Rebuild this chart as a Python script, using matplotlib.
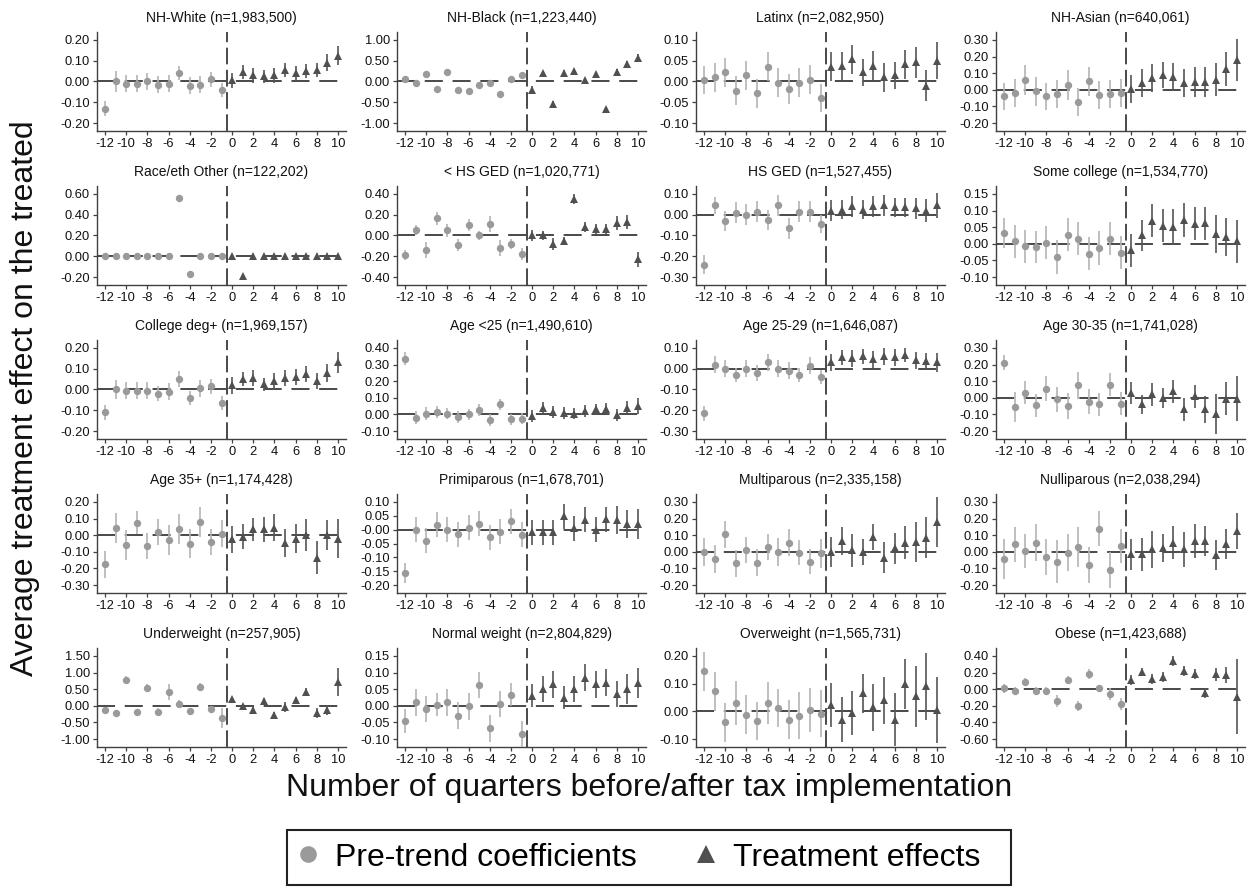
import matplotlib
matplotlib.use('Agg')
import matplotlib.pyplot as plt
from matplotlib.lines import Line2D
import numpy as np

plt.rcParams['font.family'] = ['Liberation Sans', 'DejaVu Sans']
plt.rcParams['lines.scale_dashes'] = False

pre_x = list(range(-12, 0))
post_x = list(range(0, 11))
x_ticks = list(range(-12, 11, 2))

titles = [
    "NH-White (n=1,983,500)", "NH-Black (n=1,223,440)", "Latinx (n=2,082,950)", "NH-Asian (n=640,061)",
    "Race/eth Other (n=122,202)", "< HS GED (n=1,020,771)", "HS GED (n=1,527,455)", "Some college (n=1,534,770)",
    "College deg+ (n=1,969,157)", "Age <25 (n=1,490,610)", "Age 25-29 (n=1,646,087)", "Age 30-35 (n=1,741,028)",
    "Age 35+ (n=1,174,428)", "Primiparous (n=1,678,701)", "Multiparous (n=2,335,158)", "Nulliparous (n=2,038,294)",
    "Underweight (n=257,905)", "Normal weight (n=2,804,829)", "Overweight (n=1,565,731)", "Obese (n=1,423,688)",
]

y_tick_lo = [-0.2, -1.0, -0.1, -0.2, -0.2, -0.4, -0.3, -0.1, -0.2, -0.1, -0.3, -0.2,
             -0.3, -0.2, -0.2, -0.2, -1.0, -0.1, -0.1, -0.6]
y_tick_hi = [0.2, 1.0, 0.1, 0.3, 0.6, 0.4, 0.1, 0.15, 0.2, 0.4, 0.1, 0.3,
             0.2, 0.1, 0.3, 0.3, 1.5, 0.15, 0.2, 0.4]
y_tick_step = [0.1, 0.5, 0.05, 0.1, 0.2, 0.2, 0.1, 0.05, 0.1, 0.1, 0.1, 0.1,
               0.1, 0.05, 0.1, 0.1, 0.5, 0.05, 0.1, 0.2]

pre_est = [
    [-0.13, 0.00, -0.01, -0.01, 0.00, -0.015, -0.01, 0.04, -0.02, -0.015, 0.01, -0.04],
    [0.05, -0.03, 0.19, -0.17, 0.23, -0.21, -0.24, -0.08, -0.03, -0.30, 0.07, 0.15],
    [0.004, 0.01, 0.022, -0.022, 0.015, -0.028, 0.036, -0.003, -0.018, -0.003, 0.004, -0.04],
    [-0.04, -0.02, 0.06, -0.01, -0.04, -0.025, 0.03, -0.075, 0.05, -0.03, -0.025, -0.02],
    [0.0, 0.0, 0.0, 0.0, 0.0, 0.0, 0.0, 0.56, -0.17, 0.0, 0.0, 0.0],
    [-0.185, 0.05, -0.14, 0.165, 0.05, -0.09, 0.10, 0.00, 0.11, -0.12, -0.08, -0.18],
    [-0.24, 0.045, -0.03, 0.01, 0.00, 0.015, -0.025, 0.045, -0.065, 0.015, 0.015, -0.045],
    [0.032, 0.008, -0.007, -0.01, 0.003, -0.04, 0.028, 0.015, -0.03, -0.012, 0.015, -0.027],
    [-0.11, 0.00, -0.005, -0.005, -0.005, -0.02, -0.01, 0.05, -0.04, 0.005, 0.015, -0.065],
    [0.335, -0.02, 0.005, 0.015, 0.005, -0.015, 0.00, 0.025, -0.035, 0.06, -0.03, -0.025],
    [-0.215, 0.02, 0.00, -0.03, 0.00, -0.02, 0.03, 0.00, -0.01, -0.03, 0.015, -0.04],
    [0.21, -0.055, 0.03, -0.045, 0.055, -0.01, -0.05, 0.075, -0.025, -0.04, 0.08, -0.035],
    [-0.175, 0.045, -0.06, 0.075, -0.065, 0.02, -0.03, 0.035, -0.05, 0.08, -0.04, 0.01],
    [-0.157, 0.00, -0.04, 0.018, 0.00, -0.016, 0.007, 0.022, -0.027, -0.008, 0.03, -0.018],
    [0.00, -0.045, 0.105, -0.07, 0.01, -0.065, 0.03, 0.00, 0.055, -0.005, -0.06, -0.01],
    [-0.045, 0.045, 0.005, 0.055, -0.03, -0.06, -0.005, 0.03, -0.08, 0.14, -0.11, 0.035],
    [-0.14, -0.22, 0.77, -0.19, 0.54, -0.18, 0.42, 0.05, -0.17, 0.57, -0.11, -0.38],
    [-0.046, 0.01, -0.01, 0.003, 0.01, -0.03, -0.002, 0.062, -0.068, 0.005, 0.033, -0.085],
    [0.145, 0.073, -0.04, 0.03, -0.012, -0.035, 0.03, 0.012, -0.03, -0.015, 0.005, -0.008],
    [0.01, -0.02, 0.09, -0.02, -0.02, -0.14, 0.11, -0.20, 0.18, 0.01, -0.06, -0.18],
]
pre_err = [
    [0.035, 0.05, 0.04, 0.04, 0.04, 0.04, 0.04, 0.035, 0.04, 0.04, 0.035, 0.035],
    [0.04, 0.03, 0.05, 0.04, 0.05, 0.04, 0.04, 0.06, 0.04, 0.04, 0.05, 0.06],
    [0.033, 0.035, 0.035, 0.035, 0.035, 0.035, 0.035, 0.035, 0.035, 0.035, 0.035, 0.033],
    [0.08, 0.085, 0.09, 0.085, 0.08, 0.085, 0.09, 0.085, 0.085, 0.085, 0.085, 0.085],
    [0.0, 0.0, 0.0, 0.0, 0.0, 0.0, 0.0, 0.0, 0.0, 0.0, 0.0, 0.0],
    [0.05, 0.05, 0.08, 0.06, 0.06, 0.06, 0.06, 0.04, 0.08, 0.08, 0.05, 0.06],
    [0.045, 0.04, 0.05, 0.05, 0.05, 0.05, 0.05, 0.05, 0.05, 0.05, 0.05, 0.045],
    [0.045, 0.05, 0.05, 0.048, 0.05, 0.05, 0.05, 0.05, 0.05, 0.052, 0.05, 0.05],
    [0.035, 0.045, 0.04, 0.04, 0.04, 0.035, 0.04, 0.04, 0.035, 0.04, 0.035, 0.035],
    [0.04, 0.04, 0.04, 0.035, 0.035, 0.035, 0.035, 0.035, 0.035, 0.035, 0.035, 0.035],
    [0.035, 0.04, 0.04, 0.035, 0.04, 0.04, 0.04, 0.04, 0.04, 0.035, 0.04, 0.035],
    [0.045, 0.09, 0.07, 0.07, 0.075, 0.075, 0.08, 0.08, 0.075, 0.07, 0.07, 0.07],
    [0.08, 0.09, 0.09, 0.07, 0.08, 0.08, 0.09, 0.09, 0.09, 0.09, 0.08, 0.08],
    [0.035, 0.045, 0.045, 0.045, 0.045, 0.045, 0.045, 0.045, 0.045, 0.045, 0.045, 0.045],
    [0.085, 0.085, 0.08, 0.08, 0.08, 0.08, 0.08, 0.085, 0.08, 0.075, 0.075, 0.085],
    [0.12, 0.105, 0.10, 0.11, 0.11, 0.13, 0.11, 0.12, 0.11, 0.105, 0.11, 0.10],
    [0.08, 0.08, 0.12, 0.08, 0.12, 0.12, 0.25, 0.12, 0.10, 0.12, 0.10, 0.30],
    [0.035, 0.04, 0.04, 0.035, 0.04, 0.04, 0.04, 0.04, 0.04, 0.04, 0.035, 0.04],
    [0.07, 0.07, 0.07, 0.08, 0.07, 0.07, 0.075, 0.07, 0.07, 0.085, 0.08, 0.085],
    [0.05, 0.05, 0.05, 0.05, 0.05, 0.07, 0.05, 0.06, 0.06, 0.04, 0.07, 0.07],
]
post_est = [
    [0.005, 0.045, 0.03, 0.025, 0.03, 0.055, 0.04, 0.05, 0.055, 0.09, 0.125],
    [-0.20, 0.21, -0.53, 0.21, 0.25, 0.04, 0.17, -0.67, 0.22, 0.43, 0.56],
    [0.036, 0.037, 0.053, 0.022, 0.038, 0.01, 0.015, 0.041, 0.046, -0.01, 0.05],
    [0.005, 0.04, 0.07, 0.09, 0.075, 0.04, 0.045, 0.045, 0.06, 0.125, 0.18],
    [0.0, -0.19, 0.0, 0.0, 0.0, 0.0, 0.0, 0.0, 0.0, 0.0, 0.0],
    [0.00, 0.00, -0.08, -0.05, 0.35, 0.08, 0.06, 0.06, 0.12, 0.13, -0.23],
    [0.02, 0.025, 0.04, 0.025, 0.04, 0.045, 0.035, 0.035, 0.03, 0.02, 0.045],
    [-0.02, 0.025, 0.07, 0.055, 0.05, 0.072, 0.06, 0.062, 0.03, 0.02, 0.008],
    [0.02, 0.05, 0.055, 0.025, 0.04, 0.055, 0.06, 0.075, 0.04, 0.08, 0.13],
    [-0.01, 0.04, 0.015, 0.01, 0.005, 0.02, 0.03, 0.035, -0.005, 0.04, 0.05],
    [0.03, 0.055, 0.05, 0.06, 0.045, 0.06, 0.055, 0.065, 0.04, 0.035, 0.03],
    [0.03, -0.04, 0.02, 0.00, 0.04, -0.07, 0.01, -0.07, -0.095, -0.005, -0.005],
    [-0.025, -0.01, 0.035, 0.035, 0.045, -0.045, -0.02, 0.00, -0.135, 0.00, -0.02],
    [-0.01, -0.01, -0.01, 0.048, 0.005, 0.035, 0.00, 0.037, 0.035, 0.02, 0.02],
    [0.00, 0.065, 0.01, 0.00, 0.09, -0.035, 0.02, 0.055, 0.06, 0.085, 0.18],
    [-0.015, -0.015, 0.015, 0.025, 0.055, 0.015, 0.065, 0.065, -0.02, 0.045, 0.125],
    [0.19, -0.02, -0.14, 0.15, -0.27, -0.03, 0.18, 0.43, -0.23, -0.12, 0.72],
    [0.03, 0.05, 0.065, 0.025, 0.05, 0.085, 0.065, 0.07, 0.035, 0.05, 0.07],
    [0.022, -0.03, -0.005, 0.065, 0.015, 0.04, -0.03, 0.10, 0.055, 0.09, 0.005],
    [0.11, 0.21, 0.12, 0.15, 0.34, 0.22, 0.18, -0.04, 0.18, 0.17, -0.09],
]
post_err = [
    [0.035, 0.035, 0.035, 0.03, 0.035, 0.035, 0.035, 0.035, 0.035, 0.04, 0.045],
    [0.08, 0.04, 0.06, 0.06, 0.06, 0.04, 0.04, 0.04, 0.07, 0.06, 0.09],
    [0.035, 0.033, 0.035, 0.033, 0.035, 0.035, 0.033, 0.035, 0.038, 0.038, 0.045],
    [0.085, 0.085, 0.085, 0.08, 0.085, 0.085, 0.09, 0.09, 0.10, 0.105, 0.125],
    [0.0, 0.0, 0.0, 0.0, 0.0, 0.0, 0.0, 0.0, 0.0, 0.0, 0.0],
    [0.05, 0.04, 0.06, 0.04, 0.05, 0.05, 0.05, 0.05, 0.07, 0.07, 0.07],
    [0.05, 0.045, 0.05, 0.045, 0.05, 0.05, 0.045, 0.045, 0.05, 0.055, 0.06],
    [0.05, 0.048, 0.05, 0.05, 0.055, 0.052, 0.05, 0.05, 0.058, 0.058, 0.065],
    [0.04, 0.035, 0.04, 0.03, 0.04, 0.04, 0.04, 0.04, 0.04, 0.045, 0.05],
    [0.035, 0.035, 0.035, 0.035, 0.035, 0.035, 0.035, 0.035, 0.035, 0.04, 0.05],
    [0.04, 0.035, 0.04, 0.035, 0.04, 0.04, 0.04, 0.035, 0.04, 0.04, 0.045],
    [0.065, 0.055, 0.07, 0.06, 0.07, 0.07, 0.07, 0.08, 0.12, 0.10, 0.135],
    [0.08, 0.075, 0.07, 0.075, 0.08, 0.085, 0.09, 0.095, 0.10, 0.09, 0.12],
    [0.045, 0.045, 0.045, 0.045, 0.045, 0.045, 0.045, 0.045, 0.05, 0.05, 0.055],
    [0.09, 0.085, 0.10, 0.08, 0.08, 0.095, 0.095, 0.10, 0.12, 0.125, 0.15],
    [0.095, 0.10, 0.11, 0.085, 0.10, 0.105, 0.105, 0.09, 0.09, 0.09, 0.11],
    [0.08, 0.08, 0.12, 0.08, 0.08, 0.15, 0.10, 0.10, 0.15, 0.15, 0.42],
    [0.035, 0.04, 0.04, 0.035, 0.04, 0.04, 0.04, 0.04, 0.04, 0.045, 0.045],
    [0.08, 0.08, 0.08, 0.07, 0.085, 0.085, 0.095, 0.09, 0.11, 0.12, 0.12],
    [0.06, 0.05, 0.06, 0.06, 0.06, 0.06, 0.06, 0.06, 0.08, 0.10, 0.45],
]

legend_labels = ["Pre-trend coefficients", "Treatment effects"]
x_label = "Number of quarters before/after tax implementation"
y_label = "Average treatment effect on the treated"

pre_c = '#9a9a9a'
pre_ec = '#b4b4b4'
post_c = '#505050'
post_ec = '#555555'
line_c = '#3a3a3a'
spine_c = '#404040'

W, H = 1249, 888
fig = plt.figure(figsize=(W / 100, H / 100), dpi=100)
col_left = [97, 397, 696, 996]
ax_w = 249
row_top = [32 + 154 * r for r in range(5)]
ax_h = 99

for i in range(20):
    r, c = divmod(i, 4)
    ax = fig.add_axes([col_left[c] / W, 1 - (row_top[r] + ax_h) / H, ax_w / W, ax_h / H])
    lo, hi, st = y_tick_lo[i], y_tick_hi[i], y_tick_step[i]
    yt = np.round(np.arange(lo, hi + st / 2, st), 4)
    R = hi - lo
    ax.set_ylim(lo - 0.095 * R, hi + 0.095 * R)
    ax.set_xlim(-12.75, 10.75)
    ax.axhline(0, color=line_c, lw=1.3, dashes=(13, 7), zorder=1)
    ax.axvline(-0.5, color=line_c, lw=1.3, dashes=(12, 4), zorder=1)
    ax.errorbar(pre_x, pre_est[i], yerr=pre_err[i], fmt='o', ms=5.3, color=pre_c,
                ecolor=pre_ec, elinewidth=1.2, capsize=0, mew=0, zorder=3)
    ax.errorbar(post_x, post_est[i], yerr=post_err[i], fmt='^', ms=6.0, color=post_c,
                ecolor=post_ec, elinewidth=1.2, capsize=0, mew=0, zorder=3)
    ax.set_yticks(yt)
    ax.set_yticklabels([f"{v:.2f}" for v in yt])
    ax.set_xticks(x_ticks)
    ax.set_xticklabels([str(v) for v in x_ticks])
    ax.tick_params(axis='both', labelsize=9.3, length=3, width=0.9, pad=2,
                   color=spine_c, labelcolor='#111111')
    for s in ['top', 'right']:
        ax.spines[s].set_visible(False)
    for s in ['left', 'bottom']:
        ax.spines[s].set_color(spine_c)
        ax.spines[s].set_linewidth(1.0)
    ax.set_title(titles[i], fontsize=10, pad=7, color='#111111')

fig.text(0.52, 1 - 788 / H, x_label, ha='center', va='center', fontsize=23, color='#111111')
fig.text(0.02, 1 - 398 / H, y_label, ha='center', va='center', rotation=90, fontsize=23,
         color='#111111')

handles = [
    Line2D([], [], marker='o', linestyle='none', color=pre_c, markersize=12, mew=0),
    Line2D([], [], marker='^', linestyle='none', color=post_c, markersize=13, mew=0),
]
leg = fig.legend(handles, [legend_labels[0], legend_labels[1] + "  "], loc='center',
                 bbox_to_anchor=(0.5195, 1 - 857.5 / H),
                 ncol=2, fontsize=23, frameon=True, fancybox=False, handlelength=0.5,
                 handletextpad=0.6, columnspacing=1.9, borderpad=0.4)
leg.get_frame().set_edgecolor('#222222')
leg.get_frame().set_linewidth(1.5)
leg.get_frame().set_alpha(1)

fig.savefig('out.png', dpi=100, facecolor='white')
